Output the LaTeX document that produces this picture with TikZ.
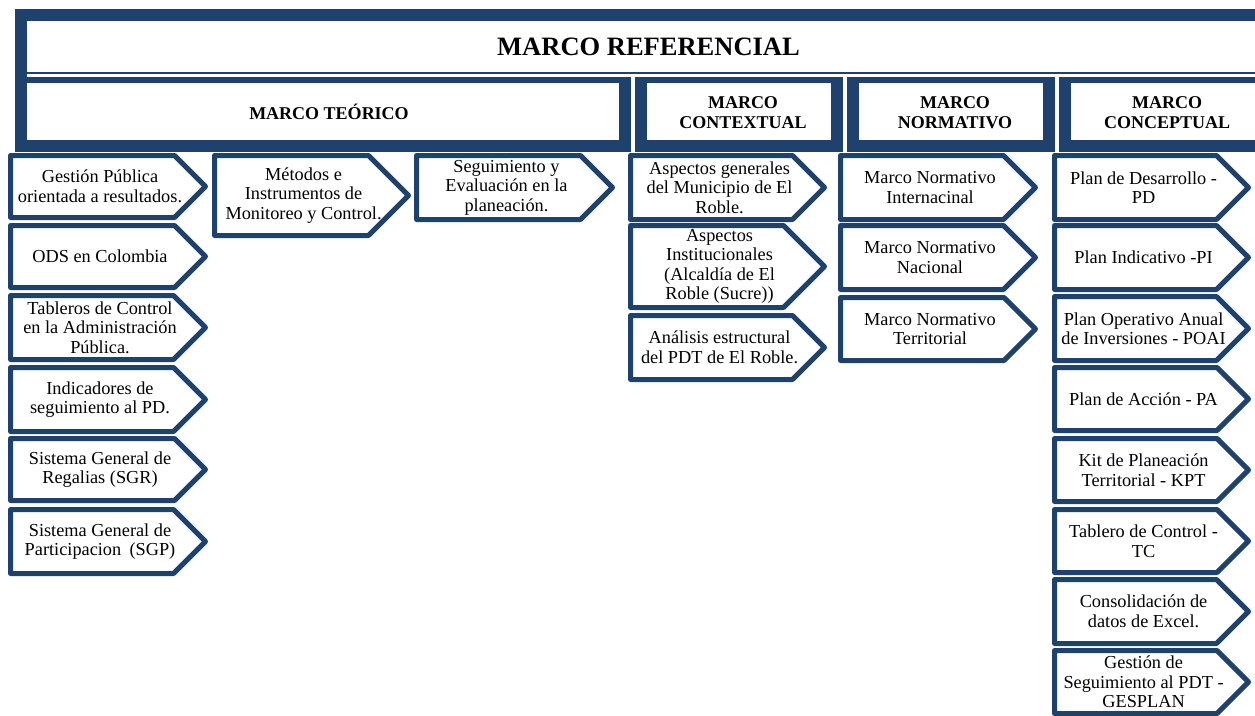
\documentclass[tikz,border=0pt]{standalone}
\usepackage{fontspec}
\setmainfont{Liberation Serif}
\definecolor{frameblue}{HTML}{1E416E}
\tikzset{
  chev/.style={draw=frameblue, line width=5pt, line join=round, fill=white},
  txt/.style={font=\fontsize{18.3}{19.5}\selectfont, align=center, inner sep=0pt, text=black},
  hdr/.style={font=\bfseries\fontsize{18}{20}\selectfont, align=center, inner sep=0pt, text=black},
  ttl/.style={font=\bfseries\fontsize{26.5}{28}\selectfont, inner sep=0pt, text=black},
}
\newcommand\chevbox[6]{%
  \pgfmathsetmacro\cya{#3+2.5}%
  \pgfmathsetmacro\cyb{#5-2.5}%
  \pgfmathsetmacro\cym{(#3+#5)/2}%
  \pgfmathsetmacro\cxa{#2+2.5}%
  \pgfmathsetmacro\cxt{#4-2.5}%
  \pgfmathsetmacro\cxd{\cxt-(\cym-\cya)}%
  \pgfmathsetmacro\cxc{#2+0.46*(#4-#2)}%
  \draw[chev] (\cxa,\cya) -- (\cxd,\cya) -- (\cxt,\cym) -- (\cxd,\cyb) -- (\cxa,\cyb) -- cycle;
  \node[txt] (#1) at (\cxc,\cym) {#6};
}
\newcommand\hdrframe[3]{% x1 x2 name-ish
  \fill[frameblue] (#1,77) rectangle (#2,152);
  \fill[white] (#1+12,83) rectangle (#2-12,140);
}
\begin{document}
\begin{tikzpicture}[x=1pt,y=-1pt]
\useasboundingbox (0,0) rectangle (1255,715);
\clip (0,0) rectangle (1255,715);
\fill[white] (0,0) rectangle (1255,715);
% top banner
\fill[frameblue] (15,9) rectangle (1270,74);
\fill[white] (27,21) rectangle (1270,72);
\fill[frameblue] (15,72) rectangle (27,80);
\node[ttl] (ref) at (648.5,46.5) {MARCO REFERENCIAL};
% headers
\hdrframe{15}{631}{t}
\hdrframe{635}{843}{c}
\hdrframe{847}{1055}{n}
\hdrframe{1059}{1270}{k}
\node[hdr] (hteo) at (329,112) {MARCO TEÓRICO};
\node[hdr] (hcon) at (743,113) {MARCO\\CONTEXTUAL};
\node[hdr] (hnor) at (955,113) {MARCO\\NORMATIVO};
\node[hdr] (hcpt) at (1167,113) {MARCO\\CONCEPTUAL};
% Marco teorico - column 1
\chevbox{t1}{8}{153}{208}{220}{Gestión Pública\\orientada a resultados.}
\chevbox{t2}{8}{223}{208}{290}{ODS en Colombia}
\chevbox{t3}{8}{293}{208}{362}{Tableros de Control\\en la Administración\\Pública.}
\chevbox{t4}{8}{365}{208}{434}{Indicadores de\\seguimiento al PD.}
\chevbox{t5}{8}{436}{208}{503}{Sistema General de\\Regalias (SGR)}
\chevbox{t6}{8}{507}{208}{576}{Sistema General de\\Participacion\hspace{0.45em}(SGP)}
% column 2 and 3
\chevbox{t7}{212}{153}{411}{238}{Métodos e\\Instrumentos de\\Monitoreo y Control.}
\chevbox{t8}{414}{153}{615}{222}{Seguimiento y\\Evaluación en la\\planeación.}
% contextual
\chevbox{c1}{628}{153}{827}{222}{Aspectos generales\\del Municipio de El\\Roble.}
\chevbox{c2}{628}{223}{827}{310}{Aspectos\\Institucionales\\(Alcaldía de El\\Roble (Sucre))}
\chevbox{c3}{628}{313}{827}{382}{Análisis estructural\\del PDT de El Roble.}
% normativo
\chevbox{n1}{838}{153}{1038}{222}{Marco Normativo\\Internacinal}
\chevbox{n2}{838}{223}{1038}{292}{Marco Normativo\\Nacional}
\chevbox{n3}{838}{295}{1038}{363}{Marco Normativo\\Territorial}
% conceptual
\chevbox{k1}{1052}{153}{1251}{222}{Plan de Desarrollo -\\PD}
\chevbox{k2}{1052}{223}{1251}{292}{Plan Indicativo -PI}
\chevbox{k3}{1052}{294}{1251}{363}{Plan Operativo Anual\\de Inversiones - POAI}
\chevbox{k4}{1052}{365}{1251}{433}{Plan de Acción - PA}
\chevbox{k5}{1052}{436}{1251}{504}{Kit de Planeación\\Territorial - KPT}
\chevbox{k6}{1052}{507}{1251}{575}{Tablero de Control -\\TC}
\chevbox{k7}{1052}{577}{1251}{646}{Consolidación de\\datos de Excel.}
\chevbox{k8}{1052}{648}{1251}{716}{Gestión de\\Seguimiento al PDT -\\GESPLAN}
\end{tikzpicture}
\end{document}
